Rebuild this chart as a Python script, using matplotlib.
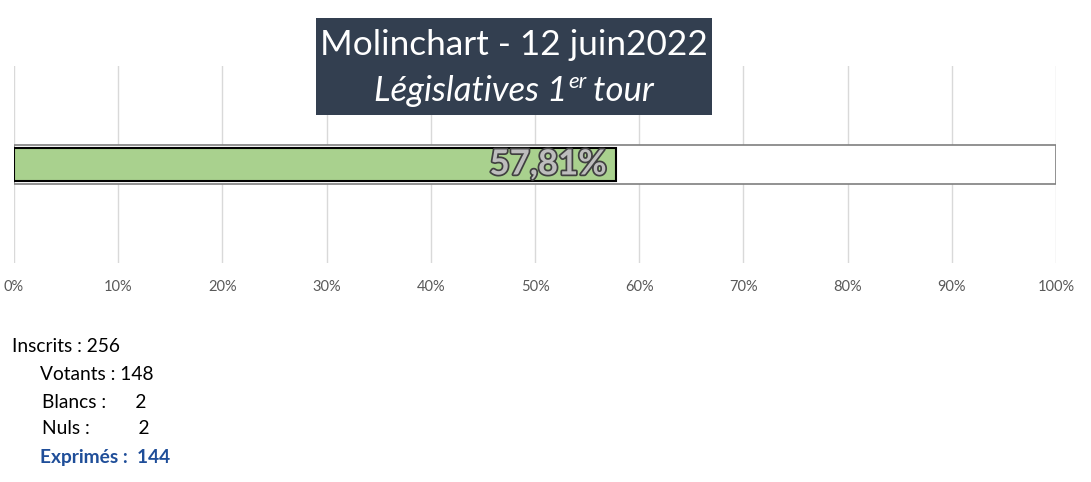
import matplotlib.pyplot as plt
import matplotlib.patheffects as pe
from matplotlib.patches import Rectangle

# data
commune = "Molinchart"
date_txt = "12 juin2022"
scrutin = "Législatives 1"
participation = 57.81
ticks = list(range(0, 101, 10))
stats_labels = ["Inscrits : 256", "Votants : 148", "Blancs :      2", "Nuls :          2", "Exprimés :  144"]

plt.rcParams['font.family'] = ['Lato', 'DejaVu Sans']

W, H = 1091, 482
fig = plt.figure(figsize=(W / 100, H / 100), dpi=100)
ax = fig.add_axes([14 / W, 1 - 263 / H, (1056 - 14) / W, (263 - 66) / H])

# background bar (100%) and value bar
ax.barh([0.5], [100], height=0.203, color='white', edgecolor='#7f7f7f', linewidth=1.2, zorder=2)
ax.barh([0.5], [participation], height=0.17, color='#a9d18e', edgecolor='black', linewidth=1.5, zorder=3)

lbl = ax.annotate(f"{participation:.2f}%".replace('.', ','), xy=(participation, 0.5),
                  xytext=(-7, 0), textcoords='offset points', ha='right', va='center',
                  fontsize=25, fontweight='bold', color='#bdbdbd', zorder=4)
lbl.set_path_effects([pe.withStroke(linewidth=2.5, foreground='#404040')])

ax.set_xlim(0, 100)
ax.set_ylim(0, 1)
ax.set_xticks(ticks)
ax.set_xticklabels([f"{t}%" for t in ticks])
ax.set_yticks([])
ax.tick_params(axis='x', length=0, pad=12, labelsize=10.5, labelcolor='#595959')
ax.grid(axis='x', color='#d9d9d9', linewidth=1, zorder=0)
ax.set_axisbelow(True)
for s in ax.spines.values():
    s.set_visible(False)

# title box
box = Rectangle((316 / W, 1 - 115 / H), (712 - 316) / W, (115 - 18) / H,
                transform=fig.transFigure, facecolor='#333f50', edgecolor='none', zorder=5)
fig.add_artist(box)
fig.text(514 / W, 1 - 45 / H, f"{commune} - {date_txt}", ha='center', va='center',
         fontsize=25.4, color='white', zorder=6)

# subtitle with superscript
r = fig.canvas.get_renderer()
t1 = fig.text(0, 1 - 91 / H, scrutin, ha='left', va='center', fontsize=25,
              style='italic', color='white', zorder=6)
t2 = fig.text(0, 1 - 82 / H, "er", ha='left', va='center', fontsize=16,
              style='italic', color='white', zorder=6)
t3 = fig.text(0, 1 - 91 / H, " tour", ha='left', va='center', fontsize=25,
              style='italic', color='white', zorder=6)
w1 = t1.get_window_extent(r).width
w2 = t2.get_window_extent(r).width
w3 = t3.get_window_extent(r).width
x0 = 514 - (w1 + w2 + w3) / 2
t1.set_x(x0 / W)
t2.set_x((x0 + w1 + 1) / W)
t3.set_x((x0 + w1 + w2) / W)

# stats below
xs = [12, 40, 42, 42, 40]
ys = [346, 374, 402, 429, 458]
for i, (txt, x, y) in enumerate(zip(stats_labels, xs, ys)):
    last = i == len(stats_labels) - 1
    fig.text(x / W, 1 - y / H, txt, ha='left', va='center', fontsize=13.8,
             color='#1f4e99' if last else 'black', fontweight='bold' if last else 'normal')

fig.savefig('out.png', dpi=100)
